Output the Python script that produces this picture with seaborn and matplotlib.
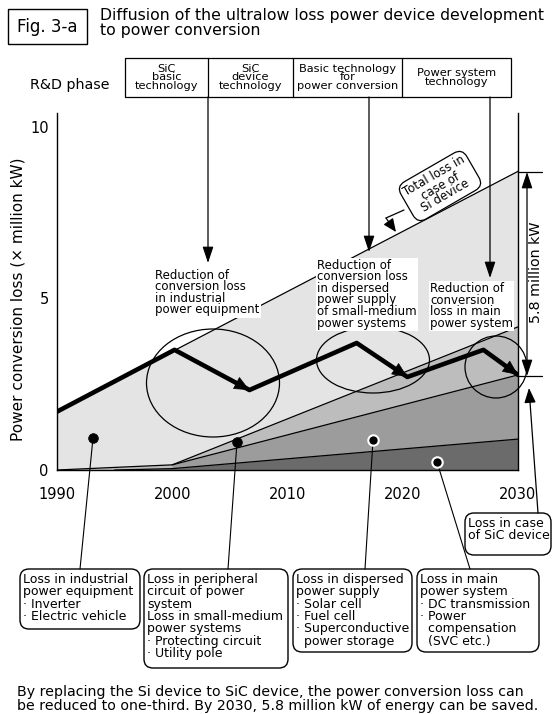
import matplotlib
matplotlib.use("Agg")
import matplotlib.pyplot as plt
from matplotlib.patches import Ellipse, FancyBboxPatch, Rectangle
import seaborn as sns

# Data (x million kW)
si_years = [1990, 2030]
si_loss = [1.7, 8.7]

periph_years = [1990, 2000, 2030]
periph_loss = [0.0, 0.15, 4.17]

dispersed_years = [2000, 2030]
dispersed_loss = [0.15, 2.77]

main_years = [1995, 2000, 2030]
main_loss = [0.0, 0.04, 0.9]

sic_years = [1990, 2000.2, 2006.7, 2016.0, 2020.4, 2027.0, 2030]
sic_loss = [1.7, 3.5, 2.33, 3.7, 2.71, 3.5, 2.77]

year_ticks = [1990, 2000, 2010, 2020, 2030]
loss_ticks = [0, 5, 10]

phases = ["SiC\nbasic\ntechnology", "SiC\ndevice\ntechnology",
          "Basic technology\nfor\npower conversion", "Power system\ntechnology"]

sns.set_style("white")
plt.rcParams['font.family'] = ['DejaVu Sans']
plt.rcParams['text.color'] = 'black'
plt.rcParams['xtick.color'] = 'black'
plt.rcParams['ytick.color'] = 'black'
plt.rcParams['axes.labelcolor'] = 'black'

fig = plt.figure(figsize=(5.52, 7.14), dpi=100)
W, H = 552, 714
ax = fig.add_axes([57 / W, (H - 470) / H, (518 - 57) / W, (470 - 113) / H])
ax.set_xlim(1990, 2030)
ax.set_ylim(0, 10.4)

# stacked loss layers
ax.fill_between(si_years, 0, si_loss, color='#e4e4e4', lw=0)
ax.fill_between(periph_years, 0, periph_loss, color='#bdbdbd', lw=0)
ax.fill_between(dispersed_years, 0, dispersed_loss, color='#9c9c9c', lw=0)
ax.fill_between(main_years, 0, main_loss, color='#6b6b6b', lw=0)
for xs, ys in [(si_years, si_loss), (periph_years, periph_loss),
               (dispersed_years, dispersed_loss), (main_years, main_loss)]:
    sns.lineplot(x=xs, y=ys, ax=ax, color='black', lw=0.9, errorbar=None)

# SiC path
sns.lineplot(x=sic_years, y=sic_loss, ax=ax, color='black', lw=3.3, errorbar=None)
for i in range(len(sic_years) - 1):
    if sic_loss[i + 1] < sic_loss[i]:
        ax.annotate('', xy=(sic_years[i + 1], sic_loss[i + 1]),
                    xytext=(sic_years[i], sic_loss[i]),
                    arrowprops=dict(arrowstyle='-|>,head_length=1.0,head_width=0.45',
                                    color='black', lw=0.5, mutation_scale=10,
                                    shrinkA=0, shrinkB=0))

ax.set_xticks(year_ticks)
ax.set_yticks(loss_ticks)
ax.tick_params(axis='both', direction='in', length=8, width=0.9, labelsize=10.5,
               colors='black')
ax.tick_params(axis='x', pad=12)
ax.tick_params(axis='y', pad=6)
for s in ['left', 'bottom', 'right']:
    ax.spines[s].set_linewidth(1.0)
    ax.spines[s].set_color('black')
ax.spines['top'].set_visible(False)
ax.set_xlabel('')
ax.set_ylabel('')

# overlay in pixel coordinates for the diagram parts
ov = fig.add_axes([0, 0, 1, 1], zorder=5)
ov.set_xlim(0, W)
ov.set_ylim(H, 0)
ov.axis('off')
ov.patch.set_alpha(0)

ov.add_patch(Rectangle((8, 9), 79, 35, fill=False, lw=1.0, ec='black'))
ov.text(47.5, 27, "Fig. 3-a", fontsize=12, ha='center', va='center')
ov.text(100, 8, "Diffusion of the ultralow loss power device development\nto power conversion",
        fontsize=11.3, va='top', ha='left', linespacing=1.0)

ov.text(30, 85, "R&D phase", fontsize=10.3, va='center', ha='left')
edges = [125, 208, 293, 402, 511]
ov.add_patch(Rectangle((125, 58), 511 - 125, 39, fill=False, lw=0.9, ec='black'))
for e in edges[1:-1]:
    ov.plot([e, e], [58, 97], color='black', lw=0.9)
for j, p in enumerate(phases):
    ov.text((edges[j] + edges[j + 1]) / 2, 77.5, p, fontsize=8.2, ha='center', va='center',
            linespacing=0.85)

# arrows from R&D phases
for x, ytip in [(208, 263), (369, 252), (490, 278)]:
    ov.annotate('', xy=(x, ytip), xytext=(x, 97),
                arrowprops=dict(arrowstyle='-|>,head_length=0.9,head_width=0.3',
                                color='black', lw=0.9, mutation_scale=11,
                                shrinkA=0, shrinkB=0))

wbox = dict(fc='white', ec='none', pad=1.0)
ov.text(155, 269, "Reduction of\nconversion loss\nin industrial\npower equipment",
        fontsize=8.5, va='top', ha='left', linespacing=0.85, bbox=wbox)
ov.text(317, 259, "Reduction of\nconversion loss\nin dispersed\npower supply\nof small-medium\npower systems",
        fontsize=8.5, va='top', ha='left', linespacing=0.85, bbox=wbox)
ov.text(430, 282, "Reduction of\nconversion\nloss in main\npower system",
        fontsize=8.5, va='top', ha='left', linespacing=0.85, bbox=wbox)

# ellipses
for cx, cy, w, h in [(213, 383, 133, 108), (373, 360, 113, 66), (496, 367, 62, 62)]:
    ov.add_patch(Ellipse((cx, cy), w, h, fill=False, ec='black', lw=0.9))

# Si device bubble
ov.text(440, 186, "Total loss in\ncase of\nSi device", fontsize=8.5, rotation=30,
        ha='center', va='center', rotation_mode='anchor', linespacing=0.85,
        bbox=dict(boxstyle='round,pad=0.3,rounding_size=0.8', fc='white', ec='black', lw=0.9))
ov.plot([404, 386], [210, 218], color='black', lw=0.9)
ov.annotate('', xy=(396, 232), xytext=(386, 218),
            arrowprops=dict(arrowstyle='-|>,head_length=0.8,head_width=0.35',
                            color='black', lw=0.9, mutation_scale=10, shrinkA=0, shrinkB=0))

# 5.8 million kW dimension
ov.plot([518, 542], [172, 172], color='black', lw=0.9)
ov.plot([518, 542], [376, 376], color='black', lw=0.9)
ov.annotate('', xy=(527, 172), xytext=(527, 376),
            arrowprops=dict(arrowstyle='<|-|>,head_length=0.9,head_width=0.3',
                            color='black', lw=0.9, mutation_scale=11, shrinkA=0, shrinkB=0))
ov.text(536, 272, "5.8 million kW", fontsize=10.3, rotation=90, ha='center', va='center')

ov.text(18, 299, "Power conversion loss (\u00d7 million kW)", fontsize=11, rotation=90,
        ha='center', va='center')

# dots and leaders
for (dx, dy), (bx, by), ring in [((93, 438), (80, 569), False), ((237, 442), (228, 569), False),
                                 ((373, 440), (365, 569), True), ((437, 462), (470, 569), True)]:
    ov.plot([dx, bx], [dy, by], color='black', lw=0.8)
    ov.plot(dx, dy, 'o', color='black', ms=7 if not ring else 7.5,
            mec='white' if ring else 'black', mew=1.5 if ring else 0.5)

ov.annotate('', xy=(529, 388), xytext=(538, 513),
            arrowprops=dict(arrowstyle='-|>,head_length=0.9,head_width=0.35',
                            color='black', lw=0.9, mutation_scale=10, shrinkA=0, shrinkB=0))

boxes = [
    ((20, 569, 120, 60), "Loss in industrial\npower equipment\n\u00b7 Inverter\n\u00b7 Electric vehicle"),
    ((144, 569, 144, 99), "Loss in peripheral\ncircuit of power\nsystem\nLoss in small-medium\npower systems\n\u00b7 Protecting circuit\n\u00b7 Utility pole"),
    ((293, 569, 119, 83), "Loss in dispersed\npower supply\n\u00b7 Solar cell\n\u00b7 Fuel cell\n\u00b7 Superconductive\n  power storage"),
    ((417, 569, 122, 83), "Loss in main\npower system\n\u00b7 DC transmission\n\u00b7 Power\n  compensation\n  (SVC etc.)"),
    ((465, 513, 86, 42), "Loss in case\nof SiC device"),
]
for (bx, by, bw, bh), txt in boxes:
    ov.add_patch(FancyBboxPatch((bx, by), bw, bh, boxstyle='round,pad=0,rounding_size=9',
                                fc='white', ec='black', lw=1.0))
    ov.text(bx + 3, by + 4, txt, fontsize=9, va='top', ha='left', linespacing=0.93)

ov.text(17, 685, "By replacing the Si device to SiC device, the power conversion loss can\n"
        "be reduced to one-third. By 2030, 5.8 million kW of energy can be saved.",
        fontsize=10.2, va='top', ha='left', linespacing=1.0)

fig.savefig('out.png', dpi=100)
